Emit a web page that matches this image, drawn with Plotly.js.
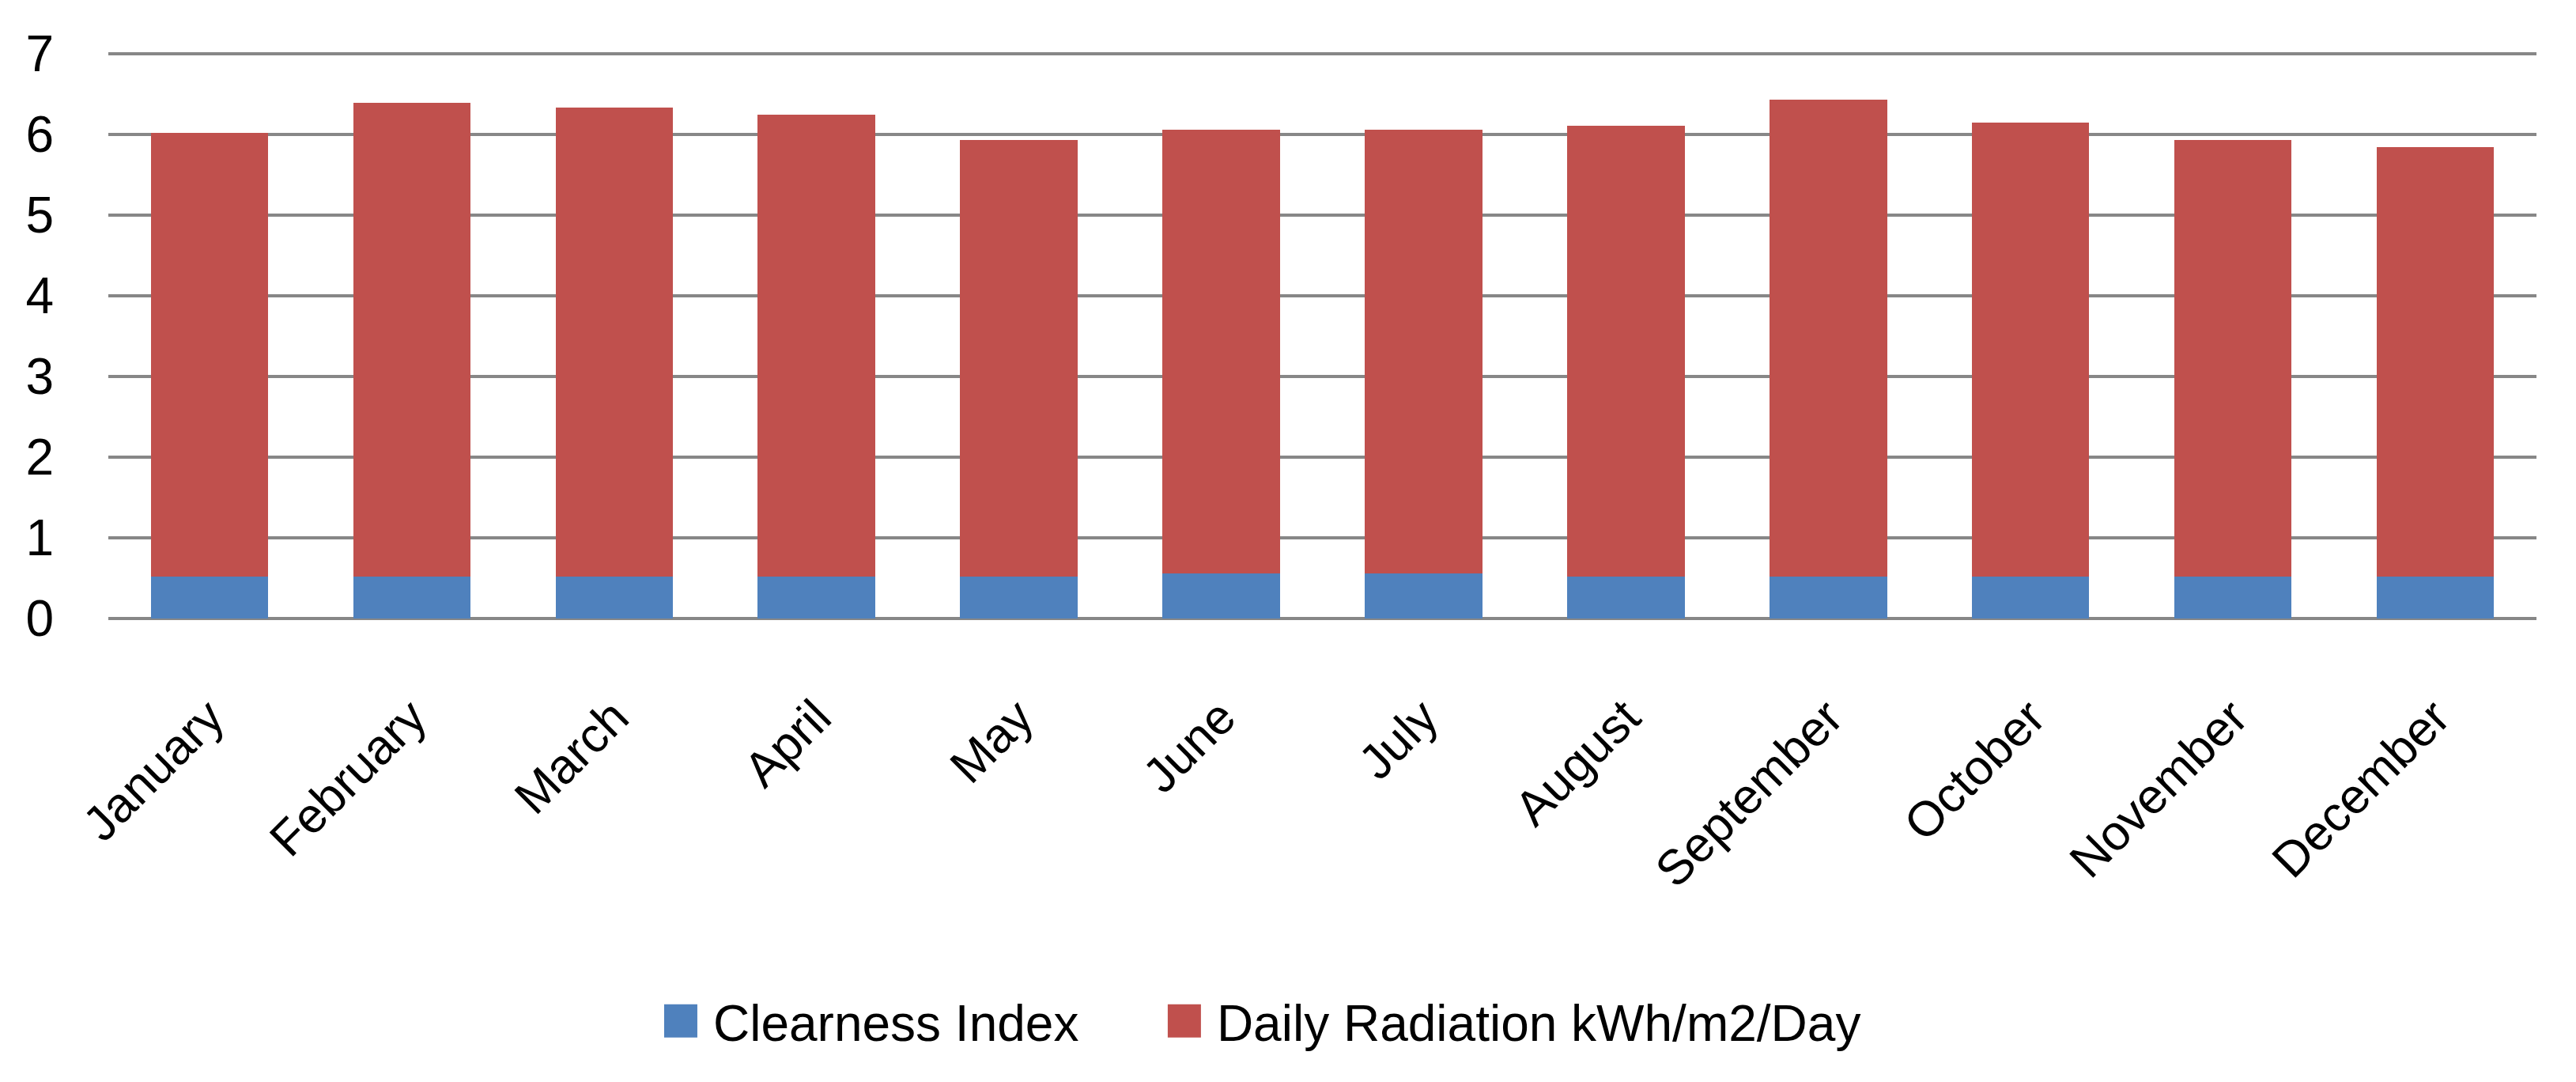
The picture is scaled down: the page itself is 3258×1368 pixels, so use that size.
<!DOCTYPE html>
<html>
<head>
<meta charset="utf-8">
<script src="https://cdn.plot.ly/plotly-3.0.1.min.js"></script>
<style>
  html, body { margin: 0; padding: 0; background: #ffffff; }
  #chart { width: 3258px; height: 1368px; }
</style>
</head>
<body>
<div id="chart"></div>
<script>
// Categories
const months = ["January", "February", "March", "April", "May", "June",
                "July", "August", "September", "October", "November", "December"];

// Series values (stacked: clearness index at the bottom, daily radiation on top)
const clearnessIndex = [0.52, 0.52, 0.52, 0.52, 0.52, 0.56, 0.56, 0.52, 0.52, 0.52, 0.52, 0.52];
const dailyRadiation = [5.50, 5.87, 5.81, 5.73, 5.41, 5.50, 5.50, 5.59, 5.91, 5.63, 5.41, 5.32];

// Y-axis ticks
const yTickValues = [0, 1, 2, 3, 4, 5, 6, 7];

const FONT = "Liberation Sans, Arial, sans-serif";

const traces = [
  {
    type: "bar",
    name: "Clearness Index",
    x: months,
    y: clearnessIndex,
    marker: { color: "#4F81BD" },
    legend: "legend"
  },
  {
    type: "bar",
    name: "Daily Radiation kWh/m2/Day",
    x: months,
    y: dailyRadiation,
    marker: { color: "#C0504D" },
    legend: "legend2"
  }
];

const legendCommon = {
  orientation: "h",
  xanchor: "left",
  y: -0.711,
  yanchor: "middle",
  font: { family: FONT, size: 64, color: "#000000" },
  itemwidth: 60,
  bgcolor: "rgba(0,0,0,0)"
};

const layout = {
  width: 3258,
  height: 1368,
  paper_bgcolor: "#ffffff",
  plot_bgcolor: "#ffffff",
  barmode: "stack",
  bargap: 0.42,
  margin: { l: 137, r: 50, t: 66, b: 586 },
  font: { family: FONT, size: 64, color: "#000000" },
  xaxis: {
    type: "category",
    tickangle: -45,
    tickfont: { family: FONT, size: 62, color: "#000000" },
    showgrid: false,
    showline: false,
    zeroline: false,
    ticks: "",
    ticklabelstandoff: 75
  },
  yaxis: {
    range: [0, 7.02],
    tickvals: yTickValues,
    ticktext: yTickValues.map(String),
    tickfont: { family: FONT, size: 64, color: "#000000" },
    showgrid: true,
    gridcolor: "#878787",
    gridwidth: 4.5,
    zeroline: true,
    zerolinecolor: "#878787",
    zerolinewidth: 4.5,
    showline: false,
    ticks: "",
    ticklabelstandoff: 68
  },
  showlegend: true,
  legend: Object.assign({}, legendCommon, { x: 0.2263 }),
  legend2: Object.assign({}, legendCommon, { x: 0.4337 })
};

Plotly.newPlot("chart", traces, layout, { displayModeBar: false, staticPlot: true }).then(function (gd) {
  // enlarge the legend swatches to match the reference's large square keys
  gd.querySelectorAll(".legendpoints path").forEach(function (p) {
    p.setAttribute("transform", "translate(29,0) scale(3.5,3.5)");
  });
});
</script>
</body>
</html>
